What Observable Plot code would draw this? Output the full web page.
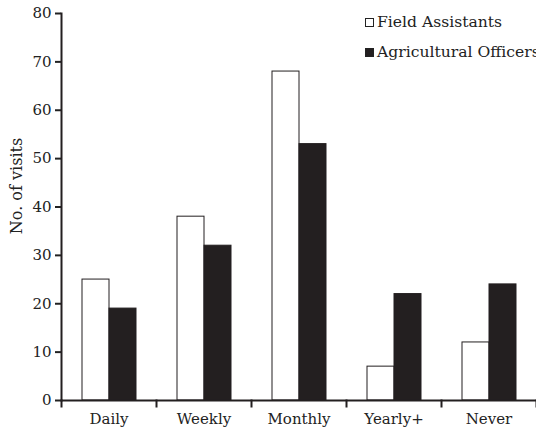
<!DOCTYPE html>
<html><head><meta charset="utf-8">
<script src="https://cdn.jsdelivr.net/npm/d3@7"></script>
<script src="https://cdn.jsdelivr.net/npm/@observablehq/plot@0.6"></script>
<style>
html,body{margin:0;padding:0;background:#fff;overflow:hidden;}
#wrap{position:relative;width:536px;height:433px;font-family:"DejaVu Serif",serif;color:#222;overflow:hidden;}
#wrap svg{display:block;}
.leg{position:absolute;left:365px;font-size:15.6px;line-height:15px;white-space:nowrap;}
.sw{display:inline-block;width:7px;height:7px;border:1px solid #222;margin-right:3px;vertical-align:0px;}
.ylab{position:absolute;left:16px;top:186px;font-size:16px;white-space:nowrap;transform:translate(-50%,-50%) rotate(-90deg);}
</style></head><body><div id="wrap"></div>
<script>
const categories = ["Daily", "Weekly", "Monthly", "Yearly+", "Never"];
const series = ["Field Assistants", "Agricultural Officers"];
const fieldAssistants = [25, 38, 68, 7, 12];
const agriculturalOfficers = [19, 32, 53, 22, 24];
const yTicks = [0, 10, 20, 30, 40, 50, 60, 70, 80];
const yLabel = "No. of visits";

const data = categories.flatMap((c, i) => [
  {category: c, series: series[0], value: fieldAssistants[i]},
  {category: c, series: series[1], value: agriculturalOfficers[i]}
]);

const chart = Plot.plot({
  width: 536,
  height: 433,
  marginLeft: 60,
  marginRight: 0,
  marginTop: 13,
  marginBottom: 33,
  style: {fontFamily: "DejaVu Serif, serif", fontSize: "15px", color: "#222", background: "#fff"},
  fx: {domain: categories, padding: 0, label: null, axis: null},
  x: {domain: series, paddingInner: 0, paddingOuter: 0.73, axis: null},
  y: {domain: [0, 80], axis: null},
  color: {domain: series, range: ["#ffffff", "#231f20"]},
  marks: [
    Plot.barY(data, {fx: "category", x: "series", y: "value", fill: "series", stroke: "#231f20", strokeWidth: 1}),
    Plot.axisY({ticks: yTicks, tickSize: 6, tickPadding: 4, label: null, strokeWidth: 2, fontSize: 15}),
    Plot.axisFx({anchor: "bottom", tickSize: 0, tickPadding: 13, label: null, fontSize: 15}),
    Plot.frame({anchor: "left", facetAnchor: "left", strokeWidth: 2, stroke: "#231f20"}),
    Plot.ruleY([0], {stroke: "#231f20", strokeWidth: 2}),
    Plot.frame({anchor: "left", insetTop: 387, insetBottom: -6, strokeWidth: 2, stroke: "#231f20"}),
    Plot.frame({anchor: "right", facetAnchor: "right", insetTop: 387, insetBottom: -6, strokeWidth: 2, stroke: "#231f20"})
  ]
});
const wrap = document.getElementById("wrap");
wrap.appendChild(chart);

const lab = document.createElement("div");
lab.className = "ylab";
lab.textContent = yLabel;
wrap.appendChild(lab);

const fills = ["#ffffff", "#231f20"];
series.forEach((s, i) => {
  const d = document.createElement("div");
  d.className = "leg";
  d.style.top = (15 + i * 30) + "px";
  const sw = document.createElement("span");
  sw.className = "sw";
  sw.style.background = fills[i];
  d.appendChild(sw);
  d.appendChild(document.createTextNode(s));
  wrap.appendChild(d);
});
</script></body></html>
